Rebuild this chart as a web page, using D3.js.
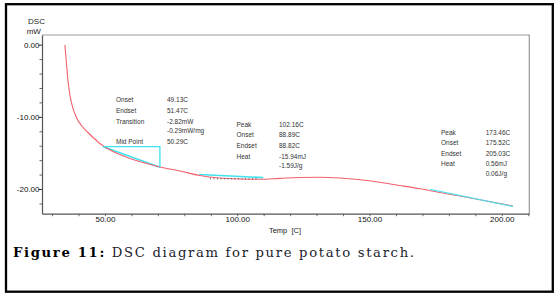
<!DOCTYPE html>
<html><head><meta charset="utf-8">
<script src="https://cdn.jsdelivr.net/npm/d3@7"></script>
<style>
html,body{margin:0;padding:0;background:#fff;}
svg{display:block;}
</style></head>
<body>
<svg id="c" width="560" height="298"></svg>
<script>
// ---- data ----
const temps  = [34.86,35.43,36.0,36.75,37.88,39.4,41.29,43.55,46.2,48.09,50.74,54.52,59.43,65.1,70.78,78.34,85.9,93.46,101.0,108.6,116.14,123.7,131.3,138.8,146.4,153.9,161.5,169.1,176.6,184.2,191.8,199.3,204.2];
const dscVals= [-0.04,-2.54,-4.9,-6.97,-8.78,-10.23,-11.27,-12.17,-13.07,-13.69,-14.36,-15.05,-15.77,-16.4,-16.95,-17.5,-18.13,-18.48,-18.61,-18.64,-18.52,-18.4,-18.38,-18.48,-18.72,-19.07,-19.51,-19.97,-20.49,-20.97,-21.48,-22.01,-22.36];
const xTicks = [30,40,50,60,70,80,90,100,110,120,130,140,150,160,170,180,190,200,210];
const xLabels = [50,100,150,200];
const yTicks = [0,-2,-4,-6,-8,-10,-12,-14,-16,-18,-20,-22];
const yLabels = [0,-10,-20];
// cyan analysis lines [ [T,V], ... ]
const glassBox = [[49.34,-14.14],[70.77,-14.14],[70.77,-16.95]];
const glassChord = [[49.34,-14.14],[70.77,-16.98]];
const peak1Base = [[85.6,-17.98],[109.8,-18.42]];
const peak1Dots = [[89.7,-18.58],[107.5,-18.58]];
const peak2Base = [[172.9,-20.05],[204.2,-22.42]];
const ann1Labels = ["Onset","Endset","Transition","","Mid Point"];
const ann1Values = ["49.13C","51.47C","-2.82mW","-0.29mW/mg","50.29C"];
const ann2Labels = ["Peak","Onset","Endset","Heat",""];
const ann2Values = ["102.16C","88.89C","88.82C","-15.94mJ","-1.59J/g"];
const ann3Labels = ["Peak","Onset","Endset","Heat",""];
const ann3Values = ["173.46C","175.52C","205.03C","0.56mJ","0.06J/g"];

const svg = d3.select("#c");
const x = d3.scaleLinear().domain([26.2,210.4]).range([42,529.3]);
const y = d3.scaleLinear().domain([1.34,-23.42]).range([35,213.7]);

// outer border
svg.append("rect").attr("x",6).attr("y",4.2).attr("width",546.8).attr("height",287.5)
  .attr("fill","none").attr("stroke","#000").attr("stroke-width",2.3);

// plot frame (top + right)
svg.append("path").attr("d",`M${x.range()[0]},${y.range()[0]}H${x.range()[1]}V${y.range()[1]}`)
  .attr("fill","none").attr("stroke","#999").attr("stroke-width",1.2);

const fmt = d=>d.toFixed(2);
const xa = svg.append("g").attr("transform",`translate(0,${y.range()[1]})`)
  .call(d3.axisBottom(x).tickValues(xTicks).tickSizeInner(2.5).tickSizeOuter(0).tickPadding(0.5)
    .tickFormat(d=>xLabels.includes(d)?fmt(d):""));
const ya = svg.append("g").attr("transform",`translate(${x.range()[0]},0)`)
  .call(d3.axisLeft(y).tickValues(yTicks).tickSizeInner(2.5).tickSizeOuter(0).tickPadding(0)
    .tickFormat(d=>yLabels.includes(d)?fmt(d):""));
[xa,ya].forEach(a=>{
  a.select(".domain").attr("stroke","#555").attr("stroke-width",1.2);
  a.selectAll(".tick line").attr("stroke","#666");
  a.selectAll("text").attr("font-family","Liberation Sans, Arial, sans-serif").attr("font-size",8).attr("fill","#111");
});
ya.selectAll(".tick").filter(d=>yLabels.includes(d)).select("line").attr("x2",-3.5).attr("stroke","#333");

// axis titles
const sans = "Liberation Sans, Arial, sans-serif";
svg.append("text").attr("x",36.5).attr("y",23.5).attr("text-anchor","middle").attr("font-family",sans).attr("font-size",8).attr("fill","#222").text("DSC");
svg.append("text").attr("x",33.8).attr("y",34).attr("text-anchor","middle").attr("font-family",sans).attr("font-size",8).attr("fill","#222").text("mW");
svg.append("text").attr("x",285).attr("y",233).attr("text-anchor","middle").attr("font-family",sans).attr("font-size",7.5).attr("fill","#222").attr("xml:space","preserve").text("Temp  [C]");

// curve
const line = d3.line().x(d=>x(d[0])).y(d=>y(d[1])).curve(d3.curveMonotoneX);
const cyan = "#3fe3ee";
const lp = d3.line().x(d=>x(d[0])).y(d=>y(d[1]));
svg.append("path").attr("d",lp(glassChord)).attr("fill","none").attr("stroke",cyan).attr("stroke-width",1.6);
svg.append("path").attr("d",lp(peak1Base)).attr("fill","none").attr("stroke",cyan).attr("stroke-width",1.6);
svg.append("path").attr("d",line(d3.zip(temps,dscVals))).attr("fill","none").attr("stroke","#f2606c").attr("stroke-width",1.1);
svg.append("path").attr("d",lp(glassBox)).attr("fill","none").attr("stroke",cyan).attr("stroke-width",1.3);
svg.append("path").attr("d",lp(peak2Base)).attr("fill","none").attr("stroke",cyan).attr("stroke-width",1.3).attr("opacity",0.9);
svg.append("path").attr("d",lp(peak1Dots)).attr("fill","none").attr("stroke","#445").attr("stroke-width",1).attr("stroke-dasharray","1,2.5");

// annotation blocks
function block(lx,vx,ys,labels,values){
  labels.forEach((t,i)=>{ if(t) svg.append("text").attr("x",lx).attr("y",ys[i]+2.3).attr("font-family",sans).attr("font-size",6.5).attr("fill","#333").text(t); });
  values.forEach((t,i)=>{ svg.append("text").attr("x",vx).attr("y",ys[i]+2.3).attr("font-family",sans).attr("font-size",6.5).attr("fill","#333").text(t); });
}
block(116,167,[100,111,121.7,130.7,141.7],ann1Labels,ann1Values);
block(236.5,279,[124.3,135,145.7,156.7,166],ann2Labels,ann2Values);
block(441,485.7,[132.3,142.7,153.3,164,173.3],ann3Labels,ann3Values);

// caption
const cap = svg.append("text").attr("x",13).attr("y",257).attr("font-family","DejaVu Serif, Liberation Serif, serif").attr("font-size",13.2).attr("fill","#1c1c2c");
cap.append("tspan").attr("font-weight","bold").attr("fill","#000").text("Figure 11:");
cap.append("tspan").text(" DSC diagram for pure potato starch.");
const w = cap.node().getComputedTextLength();
const n = "Figure 11: DSC diagram for pure potato starch.".length;
cap.attr("letter-spacing",((401-w)/(n-1)).toFixed(3));
</script>
</body></html>
